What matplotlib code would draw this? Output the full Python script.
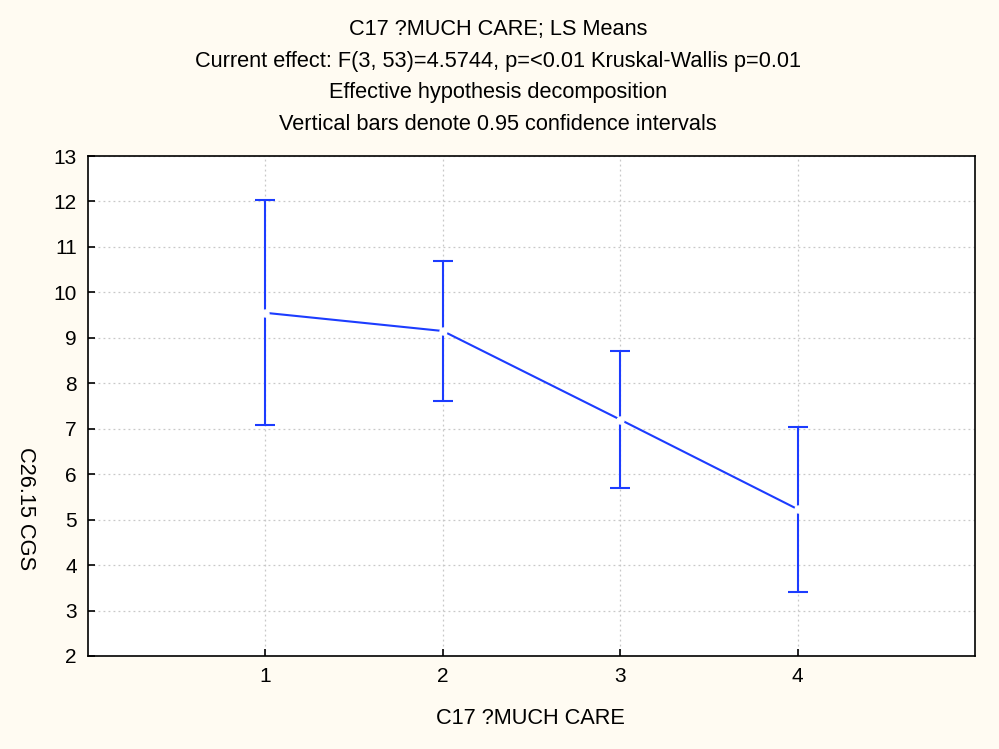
import numpy as np
import matplotlib.pyplot as plt

plt.rcParams['font.family'] = ['Liberation Sans', 'DejaVu Sans']

# LS means and 95% confidence limits per group
groups = [1, 2, 3, 4]
means = [9.55, 9.15, 7.20, 5.23]
lower = [7.08, 7.61, 5.70, 3.41]
upper = [12.04, 10.69, 8.71, 7.04]

title_lines = [
    'C17 ?MUCH CARE; LS Means',
    'Current effect: F(3, 53)=4.5744, p=<0.01 Kruskal-Wallis p=0.01',
    'Effective hypothesis decomposition',
    'Vertical bars denote 0.95 confidence intervals',
]

means = np.array(means)
err = [means - np.array(lower), np.array(upper) - means]

fig = plt.figure(figsize=(9.99, 7.49), dpi=100, facecolor='#fffbf2')
ax = fig.add_axes([0.0881, 0.1242, 0.8879, 0.6675])
ax.set_facecolor('white')

blue = '#1c3cff'
ax.errorbar(groups, means, yerr=err, color=blue, lw=1.5, elinewidth=1.5,
            capsize=7, capthick=1.5, marker='o', markersize=5,
            markerfacecolor='white', markeredgecolor='white', zorder=3)

ax.set_xlim(0, 5)
ax.set_ylim(2, 13)
ax.set_xticks(groups)
ax.set_yticks(range(2, 14))
ax.grid(True, color='#c8c8c8', linestyle=(0, (1.5, 2.5)), linewidth=0.9)
ax.tick_params(direction='in', length=5, width=1.2, labelsize=15, pad=8)
for s in ax.spines.values():
    s.set_linewidth(1.2)
    s.set_color('black')

for i, line in enumerate(title_lines):
    fig.text(498 / 999, 1 - (29.5 + 31.5 * i) / 749, line, ha='center', va='center', fontsize=15.7)

fig.text(530 / 999, 1 - 718 / 749, 'C17 ?MUCH CARE', ha='center', va='center', fontsize=15.7)
fig.text(25 / 999, 1 - 509 / 749, 'C26.15 CGS', ha='center', va='center',
         rotation=-90, fontsize=15.7)

fig.savefig('out.png', dpi=100, facecolor=fig.get_facecolor())
